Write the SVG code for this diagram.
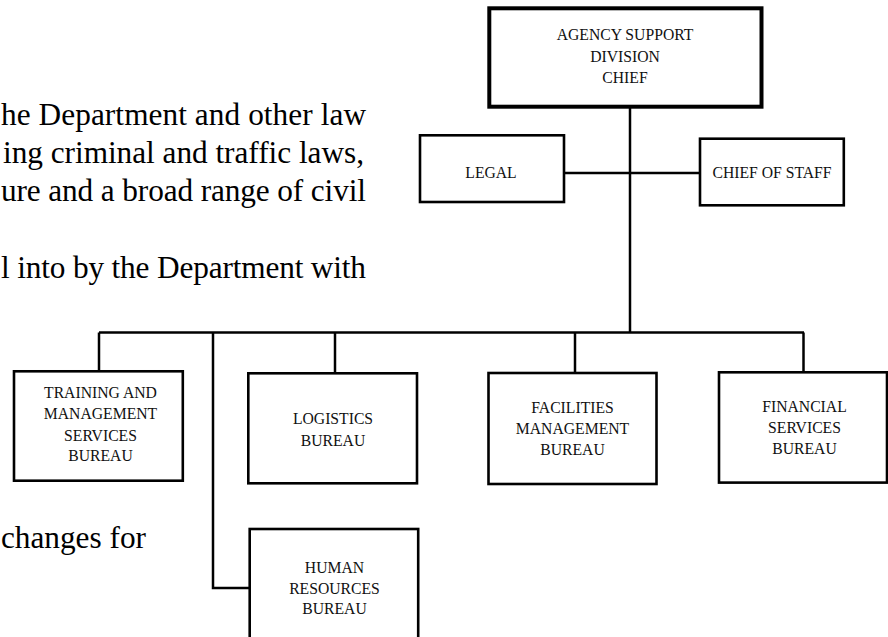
<svg xmlns="http://www.w3.org/2000/svg" width="888" height="637" viewBox="0 0 888 637">
<style>
.body{font-family:"Liberation Serif","Times New Roman",serif;font-size:31.3px;fill:#000}
.lbl{font-family:"Liberation Serif","Times New Roman",serif;font-size:15.7px;fill:#111;text-anchor:middle}
.box{fill:#fff;stroke:#000;stroke-width:2.6}
.thick{fill:#fff;stroke:#000;stroke-width:4}
.con{fill:none;stroke:#000;stroke-width:2.5}
</style>
<rect width="888" height="637" fill="#fff"/>
<g id="background-text">
<text class="body" x="1" y="125" textLength="365" lengthAdjust="spacing">he Department and other law</text>
<text class="body" x="3" y="163" textLength="361" lengthAdjust="spacing">ing criminal and traffic laws,</text>
<text class="body" x="1" y="201" textLength="365" lengthAdjust="spacing">ure and a broad range of civil</text>
<text class="body" x="1" y="278" textLength="365" lengthAdjust="spacing">l into by the Department with</text>
<text class="body" x="146" y="548" text-anchor="end">changes for</text>
</g>
<g id="connectors">
<line class="con" x1="630" y1="108" x2="630" y2="332.5"/>
<line class="con" x1="564" y1="173" x2="700" y2="173"/>
<line class="con" x1="99" y1="332.5" x2="804" y2="332.5"/>
<line class="con" x1="99" y1="332.5" x2="99" y2="371"/>
<line class="con" x1="335" y1="332.5" x2="335" y2="373"/>
<line class="con" x1="575" y1="332.5" x2="575" y2="373"/>
<line class="con" x1="803.5" y1="332.5" x2="803.5" y2="372"/>
<polyline class="con" points="213,332.5 213,588 249.7,588"/>
</g>
<g id="agency-support-division-chief">
<rect class="thick" x="489.3" y="8.3" width="272.2" height="98.4"/>
<text class="lbl" x="625" y="40">AGENCY SUPPORT</text>
<text class="lbl" x="625" y="62">DIVISION</text>
<text class="lbl" x="625" y="83">CHIEF</text>
</g>
<g id="legal">
<rect class="box" x="420" y="135.3" width="144" height="66.7"/>
<text class="lbl" x="491" y="178">LEGAL</text>
</g>
<g id="chief-of-staff">
<rect class="box" x="700" y="138.7" width="143.8" height="66.6"/>
<text class="lbl" x="772" y="178">CHIEF OF STAFF</text>
</g>
<g id="training-and-management-services-bureau">
<rect class="box" x="14" y="371.3" width="168.8" height="109.4"/>
<text class="lbl" x="100.5" y="398">TRAINING AND</text>
<text class="lbl" x="100.5" y="419">MANAGEMENT</text>
<text class="lbl" x="100.5" y="441">SERVICES</text>
<text class="lbl" x="100.5" y="461">BUREAU</text>
</g>
<g id="logistics-bureau">
<rect class="box" x="248.3" y="373.3" width="168.7" height="110"/>
<text class="lbl" x="333" y="424">LOGISTICS</text>
<text class="lbl" x="333" y="446">BUREAU</text>
</g>
<g id="human-resources-bureau">
<rect class="box" x="249.7" y="529" width="168.5" height="130"/>
<text class="lbl" x="334.5" y="573">HUMAN</text>
<text class="lbl" x="334.5" y="594">RESOURCES</text>
<text class="lbl" x="334.5" y="614">BUREAU</text>
</g>
<g id="facilities-management-bureau">
<rect class="box" x="488.5" y="373" width="168" height="111"/>
<text class="lbl" x="572.5" y="413">FACILITIES</text>
<text class="lbl" x="572.5" y="433.5">MANAGEMENT</text>
<text class="lbl" x="572.5" y="455">BUREAU</text>
</g>
<g id="financial-services-bureau">
<rect class="box" x="719" y="372.3" width="168" height="110.3"/>
<text class="lbl" x="804.5" y="411.5">FINANCIAL</text>
<text class="lbl" x="804.5" y="432.5">SERVICES</text>
<text class="lbl" x="804.5" y="453.5">BUREAU</text>
</g>
</svg>
